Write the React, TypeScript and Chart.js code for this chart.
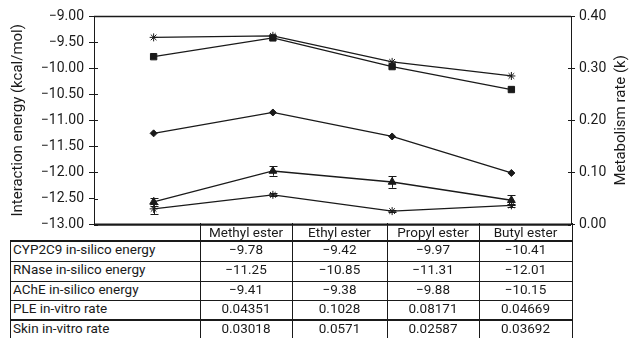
import React, { useEffect, useRef } from "react";
import { Chart, registerables } from "chart.js";
Chart.register(...registerables);

const categories = ["Methyl ester", "Ethyl ester", "Propyl ester", "Butyl ester"];
const cyp2c9Energy = [-9.78, -9.42, -9.97, -10.41];
const rnaseEnergy = [-11.25, -10.85, -11.31, -12.01];
const acheEnergy = [-9.41, -9.38, -9.88, -10.15];
const pleRate = [0.04351, 0.1028, 0.08171, 0.04669];
const skinRate = [0.03018, 0.0571, 0.02587, 0.03692];
const pleError = [0.008, 0.009, 0.011, 0.01];
const skinError = [0.01, 0.003, 0.002, 0.003];
const rowLabels = [
  "CYP2C9 in-silico energy",
  "RNase in-silico energy",
  "AChE in-silico energy",
  "PLE in-vitro rate",
  "Skin in-vitro rate",
];
const rowSeries = [cyp2c9Energy, rnaseEnergy, acheEnergy, pleRate, skinRate];
const leftTitle = "Interaction energy (kcal/mol)";
const rightTitle = "Metabolism rate (k)";

const FONT = "Roboto, 'Noto Sans', sans-serif";
const INK = "#1a1a1a";

const fmtVal = (v: number) => String(v).replace("-", "\u2212");

const frame = {
  id: "frame",
  afterDraw(chart: any) {
    const { ctx, chartArea } = chart;
    const { left, right, top, bottom } = chartArea;
    ctx.save();
    ctx.strokeStyle = INK;
    ctx.lineWidth = 1.5;
    ctx.beginPath();
    ctx.moveTo(left, top + 0.5);
    ctx.lineTo(right, top + 0.5);
    ctx.stroke();
    ctx.lineWidth = 2.2;
    ctx.beginPath();
    ctx.moveTo(left, bottom);
    ctx.lineTo(right, bottom);
    ctx.stroke();
    ctx.lineWidth = 1;
    ctx.beginPath();
    ctx.moveTo(left + 0.5, top);
    ctx.lineTo(left + 0.5, bottom);
    ctx.moveTo(right + 0.5, top);
    ctx.lineTo(right + 0.5, bottom);
    chart.scales.y.ticks.forEach((t: any) => {
      const y = Math.round(chart.scales.y.getPixelForValue(t.value)) + 0.5;
      ctx.moveTo(left, y);
      ctx.lineTo(left + 4, y);
    });
    chart.scales.y1.ticks.forEach((t: any) => {
      const y = Math.round(chart.scales.y1.getPixelForValue(t.value)) + 0.5;
      ctx.moveTo(right - 3, y);
      ctx.lineTo(right, y);
    });
    ctx.stroke();
    ctx.fillStyle = INK;
    ctx.font = `15px ${FONT}`;
    ctx.textAlign = "center";
    ctx.textBaseline = "middle";
    ctx.translate(621, (top + bottom) / 2);
    ctx.rotate(-Math.PI / 2);
    ctx.fillText(rightTitle, 0, 0);
    ctx.restore();
  },
};

const errorBars = {
  id: "errorBars",
  afterDatasetsDraw(chart: any) {
    const { ctx } = chart;
    chart.data.datasets.forEach((ds: any, i: number) => {
      if (!ds.errors) return;
      const meta = chart.getDatasetMeta(i);
      const ys = chart.scales[ds.yAxisID];
      ctx.save();
      ctx.strokeStyle = INK;
      ctx.lineWidth = 1;
      meta.data.forEach((pt: any, j: number) => {
        const x = Math.round(pt.x) + 0.5;
        const y1 = ys.getPixelForValue(ds.data[j] + ds.errors[j]);
        const y2 = ys.getPixelForValue(ds.data[j] - ds.errors[j]);
        ctx.beginPath();
        ctx.moveTo(x, y1);
        ctx.lineTo(x, y2);
        ctx.moveTo(x - 4, Math.round(y1) + 0.5);
        ctx.lineTo(x + 4, Math.round(y1) + 0.5);
        ctx.moveTo(x - 4, Math.round(y2) + 0.5);
        ctx.lineTo(x + 4, Math.round(y2) + 0.5);
        ctx.stroke();
      });
      ctx.restore();
    });
  },
};

const colEdges = [10, 200, 292, 387, 479, 572];
const rowEdges = [223, 241, 261, 281, 300, 320, 340];

export default function App() {
  const ref = useRef<HTMLCanvasElement>(null);
  useEffect(() => {
    const line = (label: string, data: number[], style: any, axis: string, extra: any = {}) => ({
      label,
      data,
      yAxisID: axis,
      borderColor: INK,
      backgroundColor: INK,
      borderWidth: 1.3,
      pointStyle: style,
      pointRadius: 4.5,
      pointBorderWidth: 1,
      pointBorderColor: INK,
      pointBackgroundColor: INK,
      tension: 0,
      ...extra,
    });
    const chart = new Chart(ref.current!, {
      type: "line",
      data: {
        labels: categories,
        datasets: [
          line("CYP2C9", cyp2c9Energy, "rect", "y", { pointRadius: 4.5 }),
          line("RNase", rnaseEnergy, "rectRot", "y", { pointRadius: 3.5 }),
          line("AChE", acheEnergy, "star", "y", { pointRadius: 4 }),
          line("PLE", pleRate, "triangle", "y1", { pointRadius: 4.5, errors: pleError }),
          line("Skin", skinRate, "star", "y1", { pointRadius: 4, errors: skinError }),
        ] as any,
      },
      options: {
        animation: false,
        responsive: false,
        maintainAspectRatio: false,
        layout: { padding: { top: 16, bottom: 2, left: 0, right: 0 } },
        plugins: { legend: { display: false }, tooltip: { enabled: false } },
        scales: {
          x: { display: false, offset: true },
          y: {
            position: "left",
            min: -13,
            max: -9,
            afterFit: (s: any) => {
              s.width = 94;
            },
            ticks: {
              stepSize: 0.5,
              color: INK,
              padding: 5,
              font: { family: FONT, size: 14 },
              callback: (v: any) => Number(v).toFixed(2).replace("-", "\u2212"),
            },
            grid: { drawOnChartArea: false, drawTicks: true, tickLength: 5, color: INK },
            border: { display: false },
            title: {
              display: true,
              text: leftTitle,
              color: INK,
              font: { family: FONT, size: 15 },
              padding: { top: 9, bottom: 0 },
            },
          },
          y1: {
            position: "right",
            min: 0,
            max: 0.4,
            afterFit: (s: any) => {
              s.width = 61;
            },
            ticks: {
              stepSize: 0.1,
              color: INK,
              padding: 4,
              font: { family: FONT, size: 14 },
              callback: (v: any) => Number(v).toFixed(2),
            },
            grid: { drawOnChartArea: false, drawTicks: true, tickLength: 4, color: INK },
            border: { display: false },
          },
        },
      },
      plugins: [frame, errorBars],
    });
    return () => chart.destroy();
  }, []);

  const hLines = [
    { y: rowEdges[1], w: 2, x0: colEdges[0] },
    { y: rowEdges[2], w: 1, x0: colEdges[0] },
    { y: rowEdges[3], w: 1, x0: colEdges[0] },
    { y: rowEdges[4], w: 1, x0: colEdges[0] },
    { y: rowEdges[5], w: 2, x0: colEdges[0] },
  ];

  return (
    <div style={{ position: "relative", width: 632, height: 338, overflow: "hidden", background: "#fff" }}>
      <style>{`body{margin:0;background:#fff}`}</style>
      <canvas ref={ref} width={632} height={238} style={{ position: "absolute", left: 0, top: 0, width: 632, height: 238 }} />
      {hLines.map((l, i) => (
        <div
          key={"h" + i}
          style={{
            position: "absolute",
            left: l.x0,
            top: l.y - Math.floor(l.w / 2),
            width: colEdges[5] - l.x0 + 1,
            height: l.w,
            background: INK,
          }}
        />
      ))}
      {colEdges.map((x, i) => (
        <div
          key={"v" + i}
          style={{
            position: "absolute",
            left: x,
            top: i === 0 ? rowEdges[1] : rowEdges[0],
            width: 1,
            height: rowEdges[6] - (i === 0 ? rowEdges[1] : rowEdges[0]),
            background: INK,
          }}
        />
      ))}
      {categories.map((c, i) => (
        <div
          key={"c" + i}
          style={{
            position: "absolute",
            left: colEdges[i + 1],
            top: rowEdges[0] + 1,
            width: colEdges[i + 2] - colEdges[i + 1],
            height: rowEdges[1] - rowEdges[0],
            lineHeight: `${rowEdges[1] - rowEdges[0]}px`,
            textAlign: "center",
            font: `13.5px ${FONT}`,
            color: INK,
          }}
        >
          {c}
        </div>
      ))}
      {rowLabels.map((r, ri) => (
        <React.Fragment key={"r" + ri}>
          <div
            style={{
              position: "absolute",
              left: colEdges[0] + 3,
              top: rowEdges[ri + 1],
              height: rowEdges[ri + 2] - rowEdges[ri + 1],
              lineHeight: `${rowEdges[ri + 2] - rowEdges[ri + 1]}px`,
              font: `13.5px ${FONT}`,
              color: INK,
              whiteSpace: "nowrap",
            }}
          >
            {r}
          </div>
          {rowSeries[ri].map((v, ci) => (
            <div
              key={ci}
              style={{
                position: "absolute",
                left: colEdges[ci + 1],
                top: rowEdges[ri + 1],
                width: colEdges[ci + 2] - colEdges[ci + 1],
                height: rowEdges[ri + 2] - rowEdges[ri + 1],
                lineHeight: `${rowEdges[ri + 2] - rowEdges[ri + 1]}px`,
                textAlign: "center",
                font: `13.5px ${FONT}`,
                color: INK,
              }}
            >
              {fmtVal(v)}
            </div>
          ))}
        </React.Fragment>
      ))}
    </div>
  );
}
